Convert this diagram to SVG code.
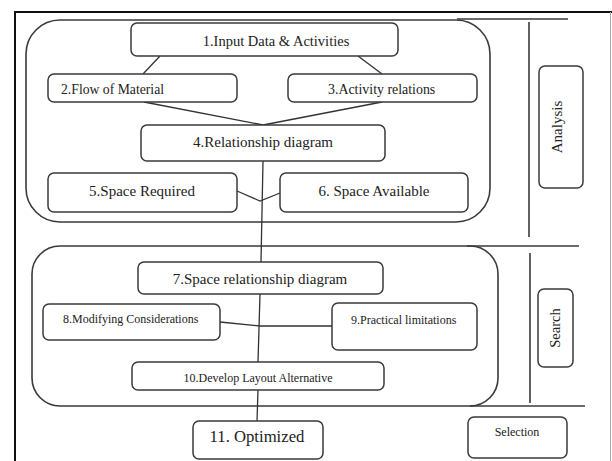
<svg xmlns="http://www.w3.org/2000/svg" width="612" height="461" viewBox="0 0 612 461">
<style>
.node rect{fill:#fff;stroke:#3a3a3a;stroke-width:1.5}
.grp{fill:none;stroke:#3a3a3a;stroke-width:1.6}
.sep{stroke:#3a3a3a;stroke-width:1.6;fill:none}
.conn line,.conn polyline{stroke:#333;stroke-width:1.3;fill:none}
text{font-family:"Liberation Serif","Times New Roman",serif;fill:#222}
</style>
<rect x="0" y="0" width="612" height="461" fill="#fff"/>
<g id="frame">
<line x1="15" y1="12" x2="15" y2="461" stroke="#111" stroke-width="2"/>
<line x1="14" y1="12" x2="612" y2="12" stroke="#111" stroke-width="2"/>
<line x1="610.5" y1="12" x2="610.5" y2="461" stroke="#aaa" stroke-width="1"/>
</g>
<g id="groups">
<rect class="grp" x="26" y="20" width="464" height="202" rx="34" ry="34"/>
<rect class="grp" x="32" y="246" width="466" height="160" rx="28" ry="28"/>
<line class="sep" x1="457" y1="19" x2="568" y2="19"/>
<line class="sep" x1="529" y1="22" x2="529" y2="237"/>
<line class="sep" x1="467" y1="246" x2="579" y2="246"/>
<line class="sep" x1="530" y1="253" x2="530" y2="403"/>
<line class="sep" x1="470" y1="406" x2="585" y2="406"/>
</g>
<g class="conn" id="connectors">
<line x1="160" y1="56" x2="143" y2="74"/>
<line x1="358" y1="56" x2="382" y2="74"/>
<line x1="144" y1="102" x2="263" y2="125"/>
<line x1="382" y1="102" x2="263" y2="125"/>
<line x1="263" y1="161" x2="261" y2="262"/>
<polyline points="237,191 260,201 280,193"/>
<polyline points="220,322 260,326 332,326"/>
<line x1="260" y1="294" x2="258" y2="362"/>
<line x1="258" y1="390" x2="257" y2="421"/>
</g>
<g class="node" id="n1"><rect x="131" y="23" width="267" height="33" rx="6"/><text x="276" y="46" font-size="14.5" text-anchor="middle">1.Input Data &amp; Activities</text></g>
<g class="node" id="n2"><rect x="48" y="74" width="189" height="28" rx="6"/><text x="61" y="94" font-size="13.7">2.Flow of Material</text></g>
<g class="node" id="n3"><rect x="288" y="74" width="189" height="28" rx="6"/><text x="328" y="94" font-size="13.9">3.Activity relations</text></g>
<g class="node" id="n4"><rect x="141" y="125" width="244" height="36" rx="6"/><text x="263" y="147" font-size="15" text-anchor="middle">4.Relationship diagram</text></g>
<g class="node" id="n5"><rect x="48" y="173" width="189" height="39" rx="6"/><text x="142" y="196" font-size="15" text-anchor="middle">5.Space Required</text></g>
<g class="node" id="n6"><rect x="280" y="173" width="188" height="39" rx="6"/><text x="374" y="196" font-size="15" text-anchor="middle">6. Space Available</text></g>
<g class="node" id="n7"><rect x="138" y="262" width="245" height="32" rx="6"/><text x="260" y="284" font-size="15" text-anchor="middle">7.Space relationship diagram</text></g>
<g class="node" id="n8"><rect x="43" y="304" width="177" height="36" rx="6"/><text x="63" y="323" font-size="12">8.Modifying Considerations</text></g>
<g class="node" id="n9"><rect x="332" y="303" width="145" height="47" rx="6"/><text x="351" y="324" font-size="12">9.Practical limitations</text></g>
<g class="node" id="n10"><rect x="132" y="362" width="252" height="28" rx="6"/><text x="258" y="382" font-size="12" text-anchor="middle">10.Develop Layout Alternative</text></g>
<g class="node" id="n11"><rect x="193" y="421" width="130" height="38" rx="6"/><text x="257" y="442" font-size="16.7" text-anchor="middle">11. Optimized</text></g>
<g class="node" id="analysis"><rect x="539" y="66" width="44" height="122" rx="6"/><text transform="translate(562,127) rotate(-90)" font-size="15" text-anchor="middle">Analysis</text></g>
<g class="node" id="search"><rect x="538" y="289" width="35" height="78" rx="6"/><text transform="translate(560,328) rotate(-90)" font-size="14.5" text-anchor="middle">Search</text></g>
<g class="node" id="selection"><rect x="468" y="417" width="99" height="41" rx="6"/><text x="517" y="436" font-size="12" text-anchor="middle">Selection</text></g>
</svg>
